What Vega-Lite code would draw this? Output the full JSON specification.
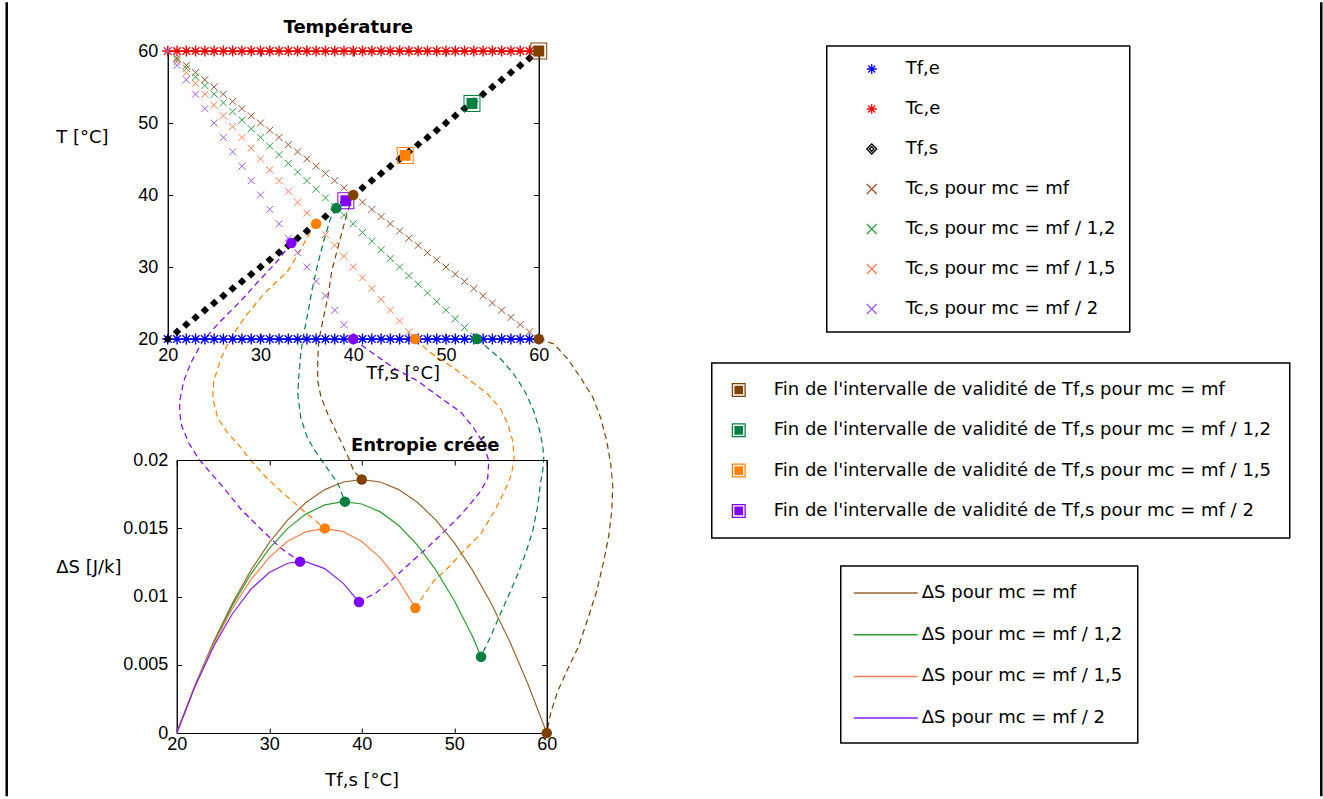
{
  "$schema": "https://vega.github.io/schema/vega-lite/v6.json",
  "background": "white",
  "padding": {"left": 4.75, "top": 0, "right": 0, "bottom": 0},
  "bounds": "flush",
  "spacing": 121,
  "resolve": {"scale": {"color": "independent", "stroke": "independent", "shape": "independent"}, "legend": {"color": "independent", "stroke": "independent", "shape": "independent"}},
  "config": {
    "font": "Liberation Sans",
    "view": {"stroke": "black", "strokeWidth": 1},
    "axis": {"grid": false, "domainColor": "black", "domainWidth": 1, "tickColor": "black", "tickWidth": 1, "tickSize": -5, "labelColor": "black", "labelFontSize": 18, "labelFont": "Liberation Sans", "titleFont": "DejaVu Sans", "titleFontSize": 18, "titleFontWeight": "normal", "titleColor": "black", "labelFlush": false, "labelOverlap": false},
    "legend": {"labelFont": "DejaVu Sans", "labelFontSize": 18, "labelColor": "black", "strokeColor": "black", "strokeWidth": 1.5, "fillColor": "white", "labelLimit": 0}
  },
  "datasets": {
    "temps": [
      {"x":20,"fe":20,"ce":60,"fs":20,"b":60,"g":60,"o":60,"p":60},
      {"x":21,"fe":20,"ce":60,"fs":21,"b":59,"g":58.8,"o":58.5,"p":58},
      {"x":22,"fe":20,"ce":60,"fs":22,"b":58,"g":57.6,"o":57,"p":56},
      {"x":23,"fe":20,"ce":60,"fs":23,"b":57,"g":56.4,"o":55.5,"p":54},
      {"x":24,"fe":20,"ce":60,"fs":24,"b":56,"g":55.2,"o":54,"p":52},
      {"x":25,"fe":20,"ce":60,"fs":25,"b":55,"g":54,"o":52.5,"p":50},
      {"x":26,"fe":20,"ce":60,"fs":26,"b":54,"g":52.8,"o":51,"p":48},
      {"x":27,"fe":20,"ce":60,"fs":27,"b":53,"g":51.6,"o":49.5,"p":46},
      {"x":28,"fe":20,"ce":60,"fs":28,"b":52,"g":50.4,"o":48,"p":44},
      {"x":29,"fe":20,"ce":60,"fs":29,"b":51,"g":49.2,"o":46.5,"p":42},
      {"x":30,"fe":20,"ce":60,"fs":30,"b":50,"g":48,"o":45,"p":40},
      {"x":31,"fe":20,"ce":60,"fs":31,"b":49,"g":46.8,"o":43.5,"p":38},
      {"x":32,"fe":20,"ce":60,"fs":32,"b":48,"g":45.6,"o":42,"p":36},
      {"x":33,"fe":20,"ce":60,"fs":33,"b":47,"g":44.4,"o":40.5,"p":34},
      {"x":34,"fe":20,"ce":60,"fs":34,"b":46,"g":43.2,"o":39,"p":32},
      {"x":35,"fe":20,"ce":60,"fs":35,"b":45,"g":42,"o":37.5,"p":30},
      {"x":36,"fe":20,"ce":60,"fs":36,"b":44,"g":40.8,"o":36,"p":28},
      {"x":37,"fe":20,"ce":60,"fs":37,"b":43,"g":39.6,"o":34.5,"p":26},
      {"x":38,"fe":20,"ce":60,"fs":38,"b":42,"g":38.4,"o":33,"p":24},
      {"x":39,"fe":20,"ce":60,"fs":39,"b":41,"g":37.2,"o":31.5,"p":22},
      {"x":40,"fe":20,"ce":60,"fs":40,"b":40,"g":36,"o":30,"p":20},
      {"x":41,"fe":20,"ce":60,"fs":41,"b":39,"g":34.8,"o":28.5},
      {"x":42,"fe":20,"ce":60,"fs":42,"b":38,"g":33.6,"o":27},
      {"x":43,"fe":20,"ce":60,"fs":43,"b":37,"g":32.4,"o":25.5},
      {"x":44,"fe":20,"ce":60,"fs":44,"b":36,"g":31.2,"o":24},
      {"x":45,"fe":20,"ce":60,"fs":45,"b":35,"g":30,"o":22.5},
      {"x":46,"fe":20,"ce":60,"fs":46,"b":34,"g":28.8,"o":21},
      {"x":47,"fe":20,"ce":60,"fs":47,"b":33,"g":27.6},
      {"x":48,"fe":20,"ce":60,"fs":48,"b":32,"g":26.4},
      {"x":49,"fe":20,"ce":60,"fs":49,"b":31,"g":25.2},
      {"x":50,"fe":20,"ce":60,"fs":50,"b":30,"g":24},
      {"x":51,"fe":20,"ce":60,"fs":51,"b":29,"g":22.8},
      {"x":52,"fe":20,"ce":60,"fs":52,"b":28,"g":21.6},
      {"x":53,"fe":20,"ce":60,"fs":53,"b":27,"g":20.4},
      {"x":54,"fe":20,"ce":60,"fs":54,"b":26},
      {"x":55,"fe":20,"ce":60,"fs":55,"b":25},
      {"x":56,"fe":20,"ce":60,"fs":56,"b":24},
      {"x":57,"fe":20,"ce":60,"fs":57,"b":23},
      {"x":58,"fe":20,"ce":60,"fs":58,"b":22},
      {"x":59,"fe":20,"ce":60,"fs":59,"b":21},
      {"x":60,"fe":20,"ce":60,"fs":60,"b":20}
    ],
    "marks": [
      {"k":"sq","g":"p","x":39.2,"T":39.2},
      {"k":"sq","g":"o","x":45.6,"T":45.5},
      {"k":"sq","g":"g","x":52.8,"T":52.7},
      {"k":"sq","g":"b","x":60,"T":60},
      {"k":"ci","g":"p","x":33.33,"T":33.33},
      {"k":"ci","g":"o","x":36,"T":36},
      {"k":"ci","g":"g","x":38.18,"T":38.18},
      {"k":"ci","g":"b","x":40,"T":40},
      {"k":"ci","g":"p","x":40,"T":20},
      {"k":"ci","g":"o","x":46.67,"T":20},
      {"k":"ci","g":"g","x":53.33,"T":20},
      {"k":"ci","g":"b","x":60,"T":20}
    ],
    "curves": [
      {"c":"pA","g":"p","i":1,"x":33.33,"T":33.33},
      {"c":"pA","g":"p","i":2,"x":31.83,"T":30.83},
      {"c":"pA","g":"p","i":3,"x":29.81,"T":28.06},
      {"c":"pA","g":"p","i":4,"x":27.87,"T":25.28},
      {"c":"pA","g":"p","i":5,"x":25.39,"T":22.08},
      {"c":"pA","g":"p","i":6,"x":23.77,"T":19.72},
      {"c":"pA","g":"p","i":7,"x":22.48,"T":16.67},
      {"c":"pA","g":"p","i":8,"x":21.73,"T":14.17},
      {"c":"pA","g":"p","i":9,"x":21.29,"T":11.39},
      {"c":"pA","g":"p","i":10,"x":21.29,"T":9.72},
      {"c":"pA","g":"p","i":11,"x":21.51,"T":7.92},
      {"c":"pA","g":"p","i":12,"x":22.26,"T":5.56},
      {"c":"pA","g":"p","i":13,"x":23.34,"T":3.33},
      {"c":"pA","g":"p","i":14,"x":24.64,"T":1.39},
      {"c":"pA","g":"p","i":15,"x":26.04,"T":-0.69},
      {"c":"pA","g":"p","i":16,"x":27.87,"T":-3.61},
      {"c":"pA","g":"p","i":17,"x":30.03,"T":-6.39},
      {"c":"pA","g":"p","i":18,"x":32.18,"T":-9.03},
      {"c":"pA","g":"p","i":19,"x":34.26,"T":-10.93},
      {"c":"pB","g":"p","i":1,"x":40,"T":20},
      {"c":"pB","g":"p","i":2,"x":41.46,"T":18.61},
      {"c":"pB","g":"p","i":3,"x":44.37,"T":15.97},
      {"c":"pB","g":"p","i":4,"x":46.95,"T":14.17},
      {"c":"pB","g":"p","i":5,"x":49.43,"T":11.81},
      {"c":"pB","g":"p","i":6,"x":51.59,"T":9.86},
      {"c":"pB","g":"p","i":7,"x":52.99,"T":7.64},
      {"c":"pB","g":"p","i":8,"x":54.07,"T":5.42},
      {"c":"pB","g":"p","i":9,"x":54.61,"T":3.06},
      {"c":"pB","g":"p","i":10,"x":54.5,"T":0.69},
      {"c":"pB","g":"p","i":11,"x":53.75,"T":-1.11},
      {"c":"pB","g":"p","i":12,"x":52.45,"T":-3.19},
      {"c":"pB","g":"p","i":13,"x":51.27,"T":-4.86},
      {"c":"pB","g":"p","i":14,"x":49.43,"T":-7.22},
      {"c":"pB","g":"p","i":15,"x":47.6,"T":-9.44},
      {"c":"pB","g":"p","i":16,"x":45.66,"T":-11.67},
      {"c":"pB","g":"p","i":17,"x":44.04,"T":-13.61},
      {"c":"pB","g":"p","i":18,"x":42.43,"T":-15.28},
      {"c":"pB","g":"p","i":19,"x":40.61,"T":-16.53},
      {"c":"oA","g":"o","i":1,"x":36,"T":36},
      {"c":"oA","g":"o","i":2,"x":35.42,"T":35.0},
      {"c":"oA","g":"o","i":3,"x":34.12,"T":31.94},
      {"c":"oA","g":"o","i":4,"x":32.94,"T":29.44},
      {"c":"oA","g":"o","i":5,"x":30.35,"T":26.25},
      {"c":"oA","g":"o","i":6,"x":28.41,"T":23.19},
      {"c":"oA","g":"o","i":7,"x":26.79,"T":20.14},
      {"c":"oA","g":"o","i":8,"x":25.71,"T":17.22},
      {"c":"oA","g":"o","i":9,"x":24.96,"T":14.17},
      {"c":"oA","g":"o","i":10,"x":24.85,"T":11.81},
      {"c":"oA","g":"o","i":11,"x":25.39,"T":9.03},
      {"c":"oA","g":"o","i":12,"x":26.47,"T":6.94},
      {"c":"oA","g":"o","i":13,"x":27.55,"T":5.42},
      {"c":"oA","g":"o","i":14,"x":29.27,"T":2.64},
      {"c":"oA","g":"o","i":15,"x":30.57,"T":0.83},
      {"c":"oA","g":"o","i":16,"x":32.18,"T":-1.11},
      {"c":"oA","g":"o","i":17,"x":34.66,"T":-3.89},
      {"c":"oA","g":"o","i":18,"x":36.93,"T":-6.31},
      {"c":"oB","g":"o","i":1,"x":46.67,"T":20},
      {"c":"oB","g":"o","i":2,"x":48.36,"T":18.06},
      {"c":"oB","g":"o","i":3,"x":50.84,"T":15.97},
      {"c":"oB","g":"o","i":4,"x":52.67,"T":14.17},
      {"c":"oB","g":"o","i":5,"x":54.5,"T":12.36},
      {"c":"oB","g":"o","i":6,"x":55.9,"T":10.28},
      {"c":"oB","g":"o","i":7,"x":56.66,"T":8.19},
      {"c":"oB","g":"o","i":8,"x":57.2,"T":5.83},
      {"c":"oB","g":"o","i":9,"x":57.34,"T":3.47},
      {"c":"oB","g":"o","i":10,"x":57.09,"T":1.39},
      {"c":"oB","g":"o","i":11,"x":56.66,"T":-0.14},
      {"c":"oB","g":"o","i":12,"x":55.36,"T":-3.61},
      {"c":"oB","g":"o","i":13,"x":53.75,"T":-7.08},
      {"c":"oB","g":"o","i":14,"x":51.91,"T":-9.44},
      {"c":"oB","g":"o","i":15,"x":50.19,"T":-11.81},
      {"c":"oB","g":"o","i":16,"x":48.68,"T":-13.61},
      {"c":"oB","g":"o","i":17,"x":47.92,"T":-15.0},
      {"c":"oB","g":"o","i":18,"x":46.71,"T":-17.38},
      {"c":"gA","g":"g","i":1,"x":38.18,"T":38.18},
      {"c":"gA","g":"g","i":2,"x":37.57,"T":36.81},
      {"c":"gA","g":"g","i":3,"x":36.82,"T":33.61},
      {"c":"gA","g":"g","i":4,"x":36.17,"T":30.42},
      {"c":"gA","g":"g","i":5,"x":35.53,"T":26.67},
      {"c":"gA","g":"g","i":6,"x":35.09,"T":23.47},
      {"c":"gA","g":"g","i":7,"x":34.66,"T":20.69},
      {"c":"gA","g":"g","i":8,"x":34.34,"T":17.92},
      {"c":"gA","g":"g","i":9,"x":34.12,"T":14.58},
      {"c":"gA","g":"g","i":10,"x":34.02,"T":12.36},
      {"c":"gA","g":"g","i":11,"x":34.34,"T":9.03},
      {"c":"gA","g":"g","i":12,"x":34.99,"T":6.53},
      {"c":"gA","g":"g","i":13,"x":35.74,"T":4.72},
      {"c":"gA","g":"g","i":14,"x":37.25,"T":1.94},
      {"c":"gA","g":"g","i":15,"x":38.33,"T":0},
      {"c":"gA","g":"g","i":16,"x":39.11,"T":-2.58},
      {"c":"gB","g":"g","i":1,"x":53.33,"T":20},
      {"c":"gB","g":"g","i":2,"x":54.5,"T":18.75},
      {"c":"gB","g":"g","i":3,"x":55.9,"T":17.22},
      {"c":"gB","g":"g","i":4,"x":57.3,"T":15.14},
      {"c":"gB","g":"g","i":5,"x":58.49,"T":12.78},
      {"c":"gB","g":"g","i":6,"x":59.46,"T":10.0},
      {"c":"gB","g":"g","i":7,"x":60.11,"T":7.22},
      {"c":"gB","g":"g","i":8,"x":60.43,"T":5.14},
      {"c":"gB","g":"g","i":9,"x":60.54,"T":3.47},
      {"c":"gB","g":"g","i":10,"x":60.43,"T":1.67},
      {"c":"gB","g":"g","i":11,"x":60.22,"T":0.28},
      {"c":"gB","g":"g","i":12,"x":59.89,"T":-3.19},
      {"c":"gB","g":"g","i":13,"x":59.35,"T":-6.67},
      {"c":"gB","g":"g","i":14,"x":58.6,"T":-9.72},
      {"c":"gB","g":"g","i":15,"x":57.74,"T":-12.64},
      {"c":"gB","g":"g","i":16,"x":56.87,"T":-15.28},
      {"c":"gB","g":"g","i":17,"x":55.9,"T":-18.06},
      {"c":"gB","g":"g","i":18,"x":54.93,"T":-20.97},
      {"c":"gB","g":"g","i":19,"x":53.78,"T":-24.11},
      {"c":"bA","g":"b","i":1,"x":40,"T":40},
      {"c":"bA","g":"b","i":2,"x":39.41,"T":37.78},
      {"c":"bA","g":"b","i":3,"x":38.87,"T":35.28},
      {"c":"bA","g":"b","i":4,"x":38.33,"T":32.64},
      {"c":"bA","g":"b","i":5,"x":37.68,"T":29.44},
      {"c":"bA","g":"b","i":6,"x":37.25,"T":25.69},
      {"c":"bA","g":"b","i":7,"x":36.71,"T":22.5},
      {"c":"bA","g":"b","i":8,"x":36.28,"T":19.72},
      {"c":"bA","g":"b","i":9,"x":36.17,"T":16.94},
      {"c":"bA","g":"b","i":10,"x":36.17,"T":14.17},
      {"c":"bA","g":"b","i":11,"x":36.5,"T":12.08},
      {"c":"bA","g":"b","i":12,"x":37.25,"T":9.58},
      {"c":"bA","g":"b","i":13,"x":38.01,"T":7.5},
      {"c":"bA","g":"b","i":14,"x":38.65,"T":5.83},
      {"c":"bA","g":"b","i":15,"x":39.51,"T":3.47},
      {"c":"bA","g":"b","i":16,"x":40.05,"T":1.67},
      {"c":"bA","g":"b","i":17,"x":40.92,"T":0.49},
      {"c":"bB","g":"b","i":1,"x":60,"T":20},
      {"c":"bB","g":"b","i":2,"x":61.62,"T":19.31},
      {"c":"bB","g":"b","i":3,"x":63.13,"T":17.22},
      {"c":"bB","g":"b","i":4,"x":64.53,"T":14.58},
      {"c":"bB","g":"b","i":5,"x":65.82,"T":11.94},
      {"c":"bB","g":"b","i":6,"x":66.68,"T":9.03},
      {"c":"bB","g":"b","i":7,"x":67.33,"T":5.83},
      {"c":"bB","g":"b","i":8,"x":67.76,"T":2.64},
      {"c":"bB","g":"b","i":9,"x":67.98,"T":-0.42},
      {"c":"bB","g":"b","i":10,"x":67.87,"T":-3.89},
      {"c":"bB","g":"b","i":11,"x":67.55,"T":-7.36},
      {"c":"bB","g":"b","i":12,"x":67.01,"T":-10.83},
      {"c":"bB","g":"b","i":13,"x":66.25,"T":-15.0},
      {"c":"bB","g":"b","i":14,"x":65.39,"T":-18.47},
      {"c":"bB","g":"b","i":15,"x":64.31,"T":-22.64},
      {"c":"bB","g":"b","i":16,"x":63.13,"T":-25.83},
      {"c":"bB","g":"b","i":17,"x":62.05,"T":-28.89},
      {"c":"bB","g":"b","i":18,"x":61.29,"T":-31.94},
      {"c":"bB","g":"b","i":19,"x":60.86,"T":-34.72}
    ],
    "ds": [
      {"g":"b","x":20,"ds":0},{"g":"b","x":22,"ds":0.003535},{"g":"b","x":24,"ds":0.006697},{"g":"b","x":26,"ds":0.009484},{"g":"b","x":28,"ds":0.011895},{"g":"b","x":30,"ds":0.013942},{"g":"b","x":32,"ds":0.015609},{"g":"b","x":34,"ds":0.016907},{"g":"b","x":36,"ds":0.017833},{"g":"b","x":38,"ds":0.018387},{"g":"b","x":40,"ds":0.018569},{"g":"b","x":42,"ds":0.018387},{"g":"b","x":44,"ds":0.017833},{"g":"b","x":46,"ds":0.016907},{"g":"b","x":48,"ds":0.015609},{"g":"b","x":50,"ds":0.013942},{"g":"b","x":52,"ds":0.011895},{"g":"b","x":54,"ds":0.009484},{"g":"b","x":56,"ds":0.006697},{"g":"b","x":58,"ds":0.003535},{"g":"b","x":60,"ds":0},
      {"g":"g","x":20,"ds":0},{"g":"g","x":22,"ds":0.003518},{"g":"g","x":24,"ds":0.006631},{"g":"g","x":26,"ds":0.009331},{"g":"g","x":28,"ds":0.011626},{"g":"g","x":30,"ds":0.013514},{"g":"g","x":32,"ds":0.014989},{"g":"g","x":34,"ds":0.016055},{"g":"g","x":36,"ds":0.016708},{"g":"g","x":38,"ds":0.016949},{"g":"g","x":40,"ds":0.016778},{"g":"g","x":42,"ds":0.016198},{"g":"g","x":44,"ds":0.0152},{"g":"g","x":46,"ds":0.013785},{"g":"g","x":48,"ds":0.011954},{"g":"g","x":50,"ds":0.009707},{"g":"g","x":52,"ds":0.007031},{"g":"g","x":52.9,"ds":0.00559},
      {"g":"o","x":20,"ds":0},{"g":"o","x":22,"ds":0.003493},{"g":"o","x":24,"ds":0.006531},{"g":"o","x":26,"ds":0.009103},{"g":"o","x":28,"ds":0.011216},{"g":"o","x":30,"ds":0.012865},{"g":"o","x":32,"ds":0.014044},{"g":"o","x":34,"ds":0.014754},{"g":"o","x":36,"ds":0.014989},{"g":"o","x":38,"ds":0.014748},{"g":"o","x":40,"ds":0.014032},{"g":"o","x":42,"ds":0.012833},{"g":"o","x":44,"ds":0.011149},{"g":"o","x":45.8,"ds":0.00915},
      {"g":"p","x":20,"ds":0},{"g":"p","x":22,"ds":0.003451},{"g":"p","x":24,"ds":0.006361},{"g":"p","x":26,"ds":0.008717},{"g":"p","x":28,"ds":0.010521},{"g":"p","x":30,"ds":0.011763},{"g":"p","x":32,"ds":0.012437},{"g":"p","x":33.33,"ds":0.012553},{"g":"p","x":34,"ds":0.012535},{"g":"p","x":36,"ds":0.012045},{"g":"p","x":38,"ds":0.010964},{"g":"p","x":39.7,"ds":0.0096}
    ],
    "dspts": [
      {"g":"b","x":40,"ds":0.018569},{"g":"g","x":38.18,"ds":0.01695},{"g":"o","x":36,"ds":0.014989},{"g":"p","x":33.33,"ds":0.012553},
      {"g":"b","x":60,"ds":0},{"g":"g","x":52.9,"ds":0.00559},{"g":"o","x":45.8,"ds":0.00915},{"g":"p","x":39.7,"ds":0.0096}
    ]
  },
  "vconcat": [
    {
      "width": 371,
      "height": 288,
      "resolve": {"axis": {"x": "independent", "y": "independent"}},
      "layer": [
        {
          "data": {"values": [{}]},
          "mark": {"type": "rule", "color": "black", "strokeWidth": 2.5, "clip": false},
          "encoding": {
            "x": {"datum": 2.64, "type": "quantitative", "scale": {"domain": [20, 60], "nice": false, "zero": false}, "axis": null},
            "y": {"datum": 66.77, "type": "quantitative", "scale": {"domain": [20, 60], "nice": false, "zero": false}, "axis": null},
            "y2": {"datum": -43.5}
          }
        },
        {
          "data": {"values": [{}]},
          "mark": {"type": "rule", "color": "black", "strokeWidth": 2.5, "clip": false},
          "encoding": {
            "x": {"datum": 144.37, "type": "quantitative", "scale": {"domain": [20, 60], "nice": false, "zero": false}, "axis": null},
            "y": {"datum": 66.77, "type": "quantitative", "scale": {"domain": [20, 60], "nice": false, "zero": false}, "axis": null},
            "y2": {"datum": -43.5}
          }
        },
        {
          "data": {"name": "curves"},
          "mark": {"type": "line", "strokeDash": [6, 4], "strokeWidth": 1.2, "clip": false},
          "encoding": {
            "x": {"field": "x", "type": "quantitative", "scale": {"domain": [20, 60], "nice": false, "zero": false}, "axis": null},
            "y": {"field": "T", "type": "quantitative", "scale": {"domain": [20, 60], "nice": false, "zero": false}, "axis": null},
            "color": {"field": "g", "type": "nominal", "scale": {"domain": ["b", "g", "o", "p"], "range": ["#804000", "#008040", "#FF8000", "#8000FF"]}},
            "detail": {"field": "c"},
            "order": {"field": "i", "type": "quantitative"}
          }
        },
        {
          "data": {"name": "temps"},
          "transform": [{"fold": ["fe", "ce", "fs", "b", "g", "o", "p"], "as": ["serie", "T"]}, {"filter": "isValid(datum.T) && (datum.serie == 'fe' || datum.serie == 'ce')"}],
          "mark": {"type": "point", "filled": false, "size": 121, "strokeWidth": 1.4, "opacity": 1},
          "encoding": {
            "x": {"field": "x", "type": "quantitative", "scale": {"domain": [20, 60], "nice": false, "zero": false},
              "axis": {"orient": "bottom", "values": [20, 30, 40, 50, 60], "title": "Tf,s [°C]", "titleX": 235, "titleY": 39, "titleAlign": "center", "titleBaseline": "alphabetic", "labelPadding": 12}},
            "y": {"field": "T", "type": "quantitative", "scale": {"domain": [20, 60], "nice": false, "zero": false},
              "axis": {"orient": "left", "values": [20, 30, 40, 50, 60], "title": "T [°C]", "titleAngle": 0, "titleX": -112, "titleY": 91, "titleAlign": "left", "titleBaseline": "alphabetic", "labelPadding": 15}},
            "stroke": {"field": "serie", "type": "nominal",
              "scale": {"domain": ["fe", "ce", "fs", "b", "g", "o", "p"], "range": ["#0000FF", "#FF0000", "#000000", "#A0522D", "#33A047", "#FF7F50", "#9B59F0"]},
              "legend": {"orient": "none", "legendX": 659, "legendY": -5, "title": null, "padding": 14, "rowPadding": 22, "symbolSize": 100, "symbolStrokeWidth": 1.3, "symbolOffset": 22, "labelOffset": 25,
                "labelExpr": "datum.label == 'fe' ? 'Tf,e' : datum.label == 'ce' ? 'Tc,e' : datum.label == 'fs' ? 'Tf,s' : datum.label == 'b' ? 'Tc,s pour mc = mf' : datum.label == 'g' ? 'Tc,s pour mc = mf / 1,2' : datum.label == 'o' ? 'Tc,s pour mc = mf / 1,5' : 'Tc,s pour mc = mf / 2'"}},
            "shape": {"field": "serie", "type": "nominal",
              "scale": {"domain": ["fe", "ce", "fs", "b", "g", "o", "p"], "range": ["M-1,0L1,0M0,-1L0,1M-0.7,-0.7L0.7,0.7M-0.7,0.7L0.7,-0.7", "M-1,0L1,0M0,-1L0,1M-0.7,-0.7L0.7,0.7M-0.7,0.7L0.7,-0.7", "M0,-1L1,0L0,1L-1,0ZM0,-0.45L0.45,0L0,0.45L-0.45,0Z", "M-1,-1L1,1M-1,1L1,-1", "M-1,-1L1,1M-1,1L1,-1", "M-1,-1L1,1M-1,1L1,-1", "M-1,-1L1,1M-1,1L1,-1"]},
              "legend": {"orient": "none", "legendX": 659, "legendY": -5, "title": null, "padding": 14, "rowPadding": 22, "symbolSize": 100, "symbolStrokeWidth": 1.3, "symbolOffset": 22, "labelOffset": 25,
                "labelExpr": "datum.label == 'fe' ? 'Tf,e' : datum.label == 'ce' ? 'Tc,e' : datum.label == 'fs' ? 'Tf,s' : datum.label == 'b' ? 'Tc,s pour mc = mf' : datum.label == 'g' ? 'Tc,s pour mc = mf / 1,2' : datum.label == 'o' ? 'Tc,s pour mc = mf / 1,5' : 'Tc,s pour mc = mf / 2'"}}
          }
        },
        {
          "data": {"name": "temps"},
          "transform": [{"fold": ["fe", "ce", "fs", "b", "g", "o", "p"], "as": ["serie", "T"]}, {"filter": "isValid(datum.T) && datum.serie == 'fs'"}],
          "mark": {"type": "point", "filled": false, "size": 36, "strokeWidth": 1.8, "opacity": 1},
          "encoding": {
            "x": {"field": "x", "type": "quantitative", "scale": {"domain": [20, 60], "nice": false, "zero": false}, "axis": null},
            "y": {"field": "T", "type": "quantitative", "scale": {"domain": [20, 60], "nice": false, "zero": false}, "axis": null},
            "stroke": {"field": "serie", "type": "nominal", "scale": {"domain": ["fe", "ce", "fs", "b", "g", "o", "p"], "range": ["#0000FF", "#FF0000", "#000000", "#A0522D", "#33A047", "#FF7F50", "#9B59F0"]}},
            "shape": {"field": "serie", "type": "nominal", "scale": {"domain": ["fe", "ce", "fs", "b", "g", "o", "p"], "range": ["M-1,0L1,0M0,-1L0,1M-0.7,-0.7L0.7,0.7M-0.7,0.7L0.7,-0.7", "M-1,0L1,0M0,-1L0,1M-0.7,-0.7L0.7,0.7M-0.7,0.7L0.7,-0.7", "M0,-1L1,0L0,1L-1,0ZM0,-0.45L0.45,0L0,0.45L-0.45,0Z", "M-1,-1L1,1M-1,1L1,-1", "M-1,-1L1,1M-1,1L1,-1", "M-1,-1L1,1M-1,1L1,-1", "M-1,-1L1,1M-1,1L1,-1"]}}
          }
        },
        {
          "data": {"name": "temps"},
          "transform": [{"fold": ["fe", "ce", "fs", "b", "g", "o", "p"], "as": ["serie", "T"]}, {"filter": "isValid(datum.T) && (datum.serie == 'b' || datum.serie == 'g' || datum.serie == 'o' || datum.serie == 'p')"}],
          "mark": {"type": "point", "filled": false, "size": 49, "strokeWidth": 1, "opacity": 1},
          "encoding": {
            "x": {"field": "x", "type": "quantitative", "scale": {"domain": [20, 60], "nice": false, "zero": false}, "axis": null},
            "y": {"field": "T", "type": "quantitative", "scale": {"domain": [20, 60], "nice": false, "zero": false}, "axis": null},
            "stroke": {"field": "serie", "type": "nominal", "scale": {"domain": ["fe", "ce", "fs", "b", "g", "o", "p"], "range": ["#0000FF", "#FF0000", "#000000", "#A0522D", "#33A047", "#FF7F50", "#9B59F0"]}},
            "shape": {"field": "serie", "type": "nominal", "scale": {"domain": ["fe", "ce", "fs", "b", "g", "o", "p"], "range": ["M-1,0L1,0M0,-1L0,1M-0.7,-0.7L0.7,0.7M-0.7,0.7L0.7,-0.7", "M-1,0L1,0M0,-1L0,1M-0.7,-0.7L0.7,0.7M-0.7,0.7L0.7,-0.7", "M0,-1L1,0L0,1L-1,0ZM0,-0.45L0.45,0L0,0.45L-0.45,0Z", "M-1,-1L1,1M-1,1L1,-1", "M-1,-1L1,1M-1,1L1,-1", "M-1,-1L1,1M-1,1L1,-1", "M-1,-1L1,1M-1,1L1,-1"]}}
          }
        },
        {
          "data": {"name": "marks"},
          "transform": [{"filter": "datum.k == 'sq'"}],
          "mark": {"type": "point", "filled": true, "size": 289, "opacity": 1, "strokeWidth": 0, "clip": false,
            "shape": "M-1,-1L1,-1L1,1L-1,1Z M-0.88,-0.88L-0.88,0.88L0.88,0.88L0.88,-0.88Z M-0.64,-0.64L0.64,-0.64L0.64,0.64L-0.64,0.64Z"},
          "encoding": {
            "x": {"field": "x", "type": "quantitative", "scale": {"domain": [20, 60], "nice": false, "zero": false}, "axis": null},
            "y": {"field": "T", "type": "quantitative", "scale": {"domain": [20, 60], "nice": false, "zero": false}, "axis": null},
            "color": {"field": "g", "type": "nominal", "scale": {"domain": ["b", "g", "o", "p"], "range": ["#804000", "#008040", "#FF8000", "#8000FF"]},
              "legend": {"orient": "none", "legendX": 544, "legendY": 312, "title": null, "padding": 18, "rowPadding": 22.3, "symbolSize": 196, "symbolStrokeWidth": 0, "symbolOffset": 0, "labelOffset": 26,
                "symbolType": "M-1,-1L1,-1L1,1L-1,1Z M-0.82,-0.82L-0.82,0.82L0.82,0.82L0.82,-0.82Z M-0.62,-0.62L0.62,-0.62L0.62,0.62L-0.62,0.62Z",
                "labelExpr": "\"Fin de l'intervalle de validité de Tf,s pour \" + (datum.label == 'b' ? 'mc = mf' : datum.label == 'g' ? 'mc = mf / 1,2' : datum.label == 'o' ? 'mc = mf / 1,5' : 'mc = mf / 2')"}}
          }
        },
        {
          "data": {"name": "marks"},
          "transform": [{"filter": "datum.k == 'ci'"}],
          "mark": {"type": "point", "filled": true, "size": 110, "opacity": 1, "shape": "circle", "clip": false},
          "encoding": {
            "x": {"field": "x", "type": "quantitative", "scale": {"domain": [20, 60], "nice": false, "zero": false},
              "axis": {"orient": "top", "labels": false, "values": [20, 30, 40, 50, 60], "title": "Température", "titleFont": "DejaVu Sans", "titleFontWeight": "bold", "titleFontSize": 18, "titleX": 180, "titleY": -19, "titleAlign": "center", "titleBaseline": "alphabetic", "titleAngle": 0}},
            "y": {"field": "T", "type": "quantitative", "scale": {"domain": [20, 60], "nice": false, "zero": false},
              "axis": {"orient": "right", "labels": false, "title": null, "values": [20, 30, 40, 50, 60]}},
            "color": {"field": "g", "type": "nominal", "scale": {"domain": ["b", "g", "o", "p"], "range": ["#804000", "#008040", "#FF8000", "#8000FF"]}}
          }
        }
      ]
    },
    {
      "bounds": "flush",
      "spacing": 8,
      "hconcat": [
        {
          "width": 1,
          "height": 1,
          "view": {"stroke": null},
          "data": {"values": []},
          "mark": "point"
        },
        {
          "width": 370,
          "height": 273,
          "resolve": {"axis": {"x": "independent", "y": "independent"}},
          "layer": [
            {
              "data": {"name": "ds"},
              "mark": {"type": "line", "strokeWidth": 1.2, "clip": false},
              "encoding": {
                "x": {"field": "x", "type": "quantitative", "scale": {"domain": [20, 60], "nice": false, "zero": false},
                  "axis": {"orient": "bottom", "values": [20, 30, 40, 50, 60], "title": "Tf,s [°C]", "titleY": 52, "titleBaseline": "alphabetic", "labelPadding": 7}},
                "y": {"field": "ds", "type": "quantitative", "scale": {"domain": [0, 0.02], "nice": false, "zero": false},
                  "axis": {"orient": "left", "values": [0, 0.005, 0.01, 0.015, 0.02], "format": "~g", "title": "ΔS [J/k]", "titleAngle": 0, "titleX": -121, "titleY": 112, "titleAlign": "left", "titleBaseline": "alphabetic", "labelPadding": 14}},
                "stroke": {"field": "g", "type": "nominal", "scale": {"domain": ["b", "g", "o", "p"], "range": ["#996633", "#2E9E2E", "#FF7F50", "#8020F0"]},
                  "legend": {"orient": "none", "legendX": 673, "legendY": 106, "title": null, "padding": 15.5, "rowPadding": 20.7, "symbolType": "M-3,0L3,0", "symbolSize": 455, "symbolStrokeWidth": 1.5, "symbolOffset": 18, "labelOffset": 24.5,
                    "labelExpr": "'ΔS pour ' + (datum.label == 'b' ? 'mc = mf' : datum.label == 'g' ? 'mc = mf / 1,2' : datum.label == 'o' ? 'mc = mf / 1,5' : 'mc = mf / 2')"}}
              }
            },
            {
              "data": {"name": "dspts"},
              "mark": {"type": "point", "filled": true, "size": 110, "opacity": 1, "shape": "circle", "clip": false},
              "encoding": {
                "x": {"field": "x", "type": "quantitative", "scale": {"domain": [20, 60], "nice": false, "zero": false},
                  "axis": {"orient": "top", "labels": false, "values": [20, 30, 40, 50, 60], "title": "Entropie créée", "titleFont": "DejaVu Sans", "titleFontWeight": "bold", "titleFontSize": 18, "titleX": 248, "titleY": -10, "titleAlign": "center", "titleBaseline": "alphabetic", "titleAngle": 0}},
                "y": {"field": "ds", "type": "quantitative", "scale": {"domain": [0, 0.02], "nice": false, "zero": false},
                  "axis": {"orient": "right", "labels": false, "title": null, "values": [0, 0.005, 0.01, 0.015, 0.02]}},
                "color": {"field": "g", "type": "nominal", "scale": {"domain": ["b", "g", "o", "p"], "range": ["#804000", "#008040", "#FF8000", "#8000FF"]}, "legend": null}
              }
            }
          ]
        }
      ]
    }
  ]
}
